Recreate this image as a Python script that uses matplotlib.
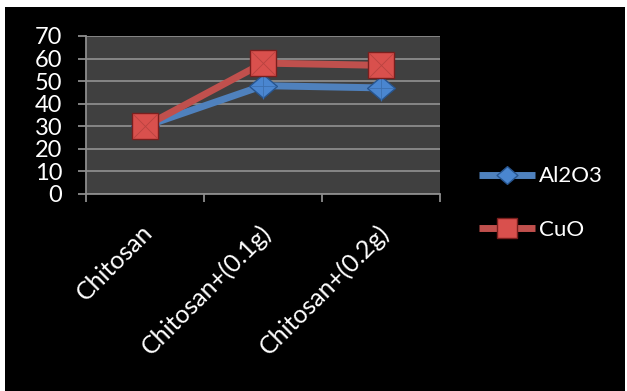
import numpy as np
import matplotlib.pyplot as plt
import matplotlib.transforms as mtransforms
from matplotlib.patches import Rectangle
from matplotlib.path import Path

categories = ['Chitosan', 'Chitosan+(0.1g)', 'Chitosan+(0.2g)']
al2o3 = [30, 48, 47]
cuo = [30, 58, 57]
yticks = [0, 10, 20, 30, 40, 50, 60, 70]

plt.rcParams['font.family'] = ['Lato', 'DejaVu Sans']

fig = plt.figure(figsize=(6.27, 3.91), dpi=100, facecolor='white')
# black chart area behind everything
fig.patches.append(Rectangle((5 / 627, 0), 620 / 627, 384 / 391,
                             transform=fig.transFigure, facecolor='black',
                             edgecolor='none', zorder=-10))

ax = fig.add_axes([86 / 627, 1 - 194 / 391, 354 / 627, 158 / 391])
ax.set_facecolor('#404040')

x = np.arange(len(categories))
diamond = Path([(-1, 0), (0, 0.85), (1, 0), (0, -0.85), (-1, 0)],
               [Path.MOVETO, Path.LINETO, Path.LINETO, Path.LINETO, Path.CLOSEPOLY])

l1, = ax.plot(x, al2o3, color='#4f81bd', lw=5, marker=diamond, ms=20,
              markerfacecolor='#4a86d0', markeredgecolor='#27558f', mew=1,
              label='Al2O3', zorder=3, solid_capstyle='butt')
ax.plot(x, al2o3, ls='none', marker='+', ms=18, mec='#3c70b0', mew=0.6, zorder=4)
l2, = ax.plot(x, cuo, color='#c0504d', lw=5, marker='s', ms=19,
              markerfacecolor='#d9504d', markeredgecolor='#7a1f1e', mew=1,
              label='CuO', zorder=5, solid_capstyle='butt')
ax.plot(x, cuo, ls='none', marker='x', ms=17, mec='#b84340', mew=0.6, zorder=6)

ax.set_xlim(-0.5, 2.5)
ax.set_ylim(0, 70)
ax.set_yticks(yticks)
ax.yaxis.grid(True, color='#8c8c8c', lw=1.3)
ax.set_axisbelow(True)

ax.set_xticks(x)
ax.set_xticklabels(categories, rotation=45, ha='right', va='top',
                   rotation_mode='anchor', color='white', fontsize=18)
ax.set_xticks([-0.5, 0.5, 1.5, 2.5], minor=True)
ax.tick_params(axis='x', which='major', length=0, pad=19)
ax.tick_params(axis='x', which='minor', length=6, width=1.3, color='#8c8c8c')
ax.tick_params(axis='y', length=6, width=1.3, color='#8c8c8c',
               labelcolor='white', labelsize=17, pad=11)
# nudge the slanted labels a little
shift = mtransforms.ScaledTranslation(-4 / 100, 0, fig.dpi_scale_trans)
for lbl in ax.get_xticklabels():
    lbl.set_transform(lbl.get_transform() + shift)

for side in ['top', 'right']:
    ax.spines[side].set_visible(False)
for side in ['left', 'bottom']:
    ax.spines[side].set_color('#8c8c8c')
    ax.spines[side].set_linewidth(1.3)

fig.legend(handles=[l1, l2], loc='center left',
           bbox_to_anchor=(479 / 627, 1 - 203 / 391), frameon=False,
           fontsize=16, labelcolor='white', handlelength=2.5,
           handletextpad=0.2, labelspacing=1.5, borderpad=0,
           borderaxespad=0, markerscale=0.75)

fig.savefig('out.png', dpi=100, facecolor='white')
